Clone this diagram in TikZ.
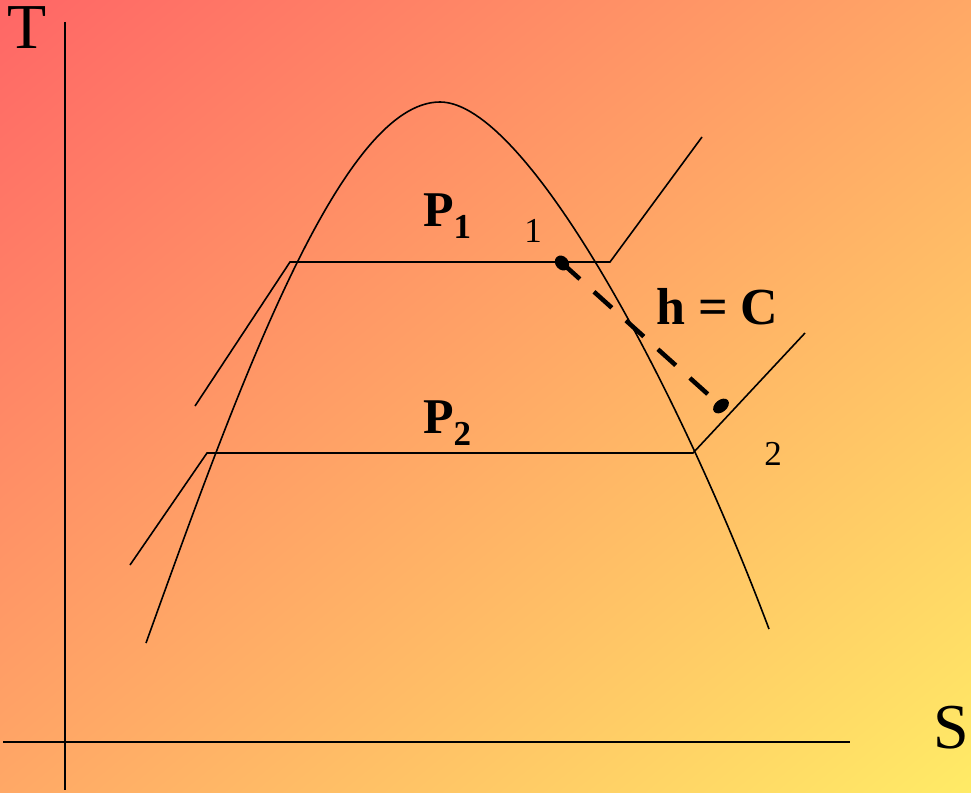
\documentclass[tikz,border=0pt]{standalone}
\usepackage{fontspec}
\setmainfont{Liberation Serif}
\usetikzlibrary{shapes.geometric,shadings}
\definecolor{bgul}{RGB}{255,102,102}
\definecolor{bglr}{RGB}{255,235,102}
\definecolor{bgmid}{RGB}{255,168,102}
\tikzset{
  thinline/.style={line width=1.6pt, black},
  axisline/.style={line width=1.8pt, black},
  hdash/.style={line width=4.5pt, black, dash pattern=on 24pt off 19pt},
  dotmark/.style={ellipse, fill=black, draw=none, inner sep=0pt},
  bigletter/.style={font=\fontsize{64}{70}\selectfont, inner sep=0pt},
  plabel/.style={font=\fontsize{50}{55}\selectfont\bfseries, inner sep=0pt, anchor=base west},
  ptlabel/.style={font=\fontsize{35}{40}\selectfont, inner sep=0pt, anchor=base},
}
\begin{document}
\begin{tikzpicture}[x=1pt,y=-1pt]
\shade[upper left=bgul, lower right=bglr, upper right=bgmid, lower left=bgmid] (0,0) rectangle (971,792);
\useasboundingbox (0,0) rectangle (971,792);

% axes
\coordinate (ytop) at (65,22);
\coordinate (ybot) at (65,790);
\coordinate (xl) at (3,742);
\coordinate (xr) at (850,742);
\draw[axisline] (ytop) -- (ybot);
\draw[axisline] (xl) -- (xr);
\node[bigletter] (T) at (27,28) {T};
\node[bigletter] (S) at (951,728) {S};

% saturation dome
\coordinate (domeL) at (146,643);
\coordinate (peak) at (440,102);
\coordinate (domeR) at (769,629);
\draw[thinline] (domeL) .. controls (236,393) and (340,102) .. (peak)
                        .. controls (525,102) and (675,379) .. (domeR);

% isobar P1
\coordinate (a1) at (195,406);
\coordinate (a2) at (290,262);
\coordinate (a3) at (610,262);
\coordinate (a4) at (702,137);
\draw[thinline] (a1) -- (a2) -- (a3) -- (a4);

% isobar P2
\coordinate (b1) at (130,565);
\coordinate (b2) at (207,453);
\coordinate (b3) at (693,453);
\coordinate (b4) at (805,333);
\draw[thinline] (b1) -- (b2) -- (b3) -- (b4);

% throttling line
\node[dotmark, minimum width=16pt, minimum height=13pt, rotate=-50] (d1) at (562,263) {};
\node[dotmark, minimum width=18pt, minimum height=12pt, rotate=40] (d2) at (721,406) {};
\draw[hdash] (d1.center) -- (d2.center);

% labels
\node[plabel] (P1) at (423,226) {P\raisebox{-12pt}{\fontsize{35}{40}\selectfont 1}};
\node[plabel] (P2) at (423,433) {P\raisebox{-12pt}{\fontsize{35}{40}\selectfont 2}};
\node[plabel, font=\fontsize{52}{57}\selectfont\bfseries] (hc) at (656,324) {h = C};
\node[ptlabel] (n1) at (533,242) {1};
\node[ptlabel] (n2) at (773,465) {2};
\end{tikzpicture}
\end{document}
